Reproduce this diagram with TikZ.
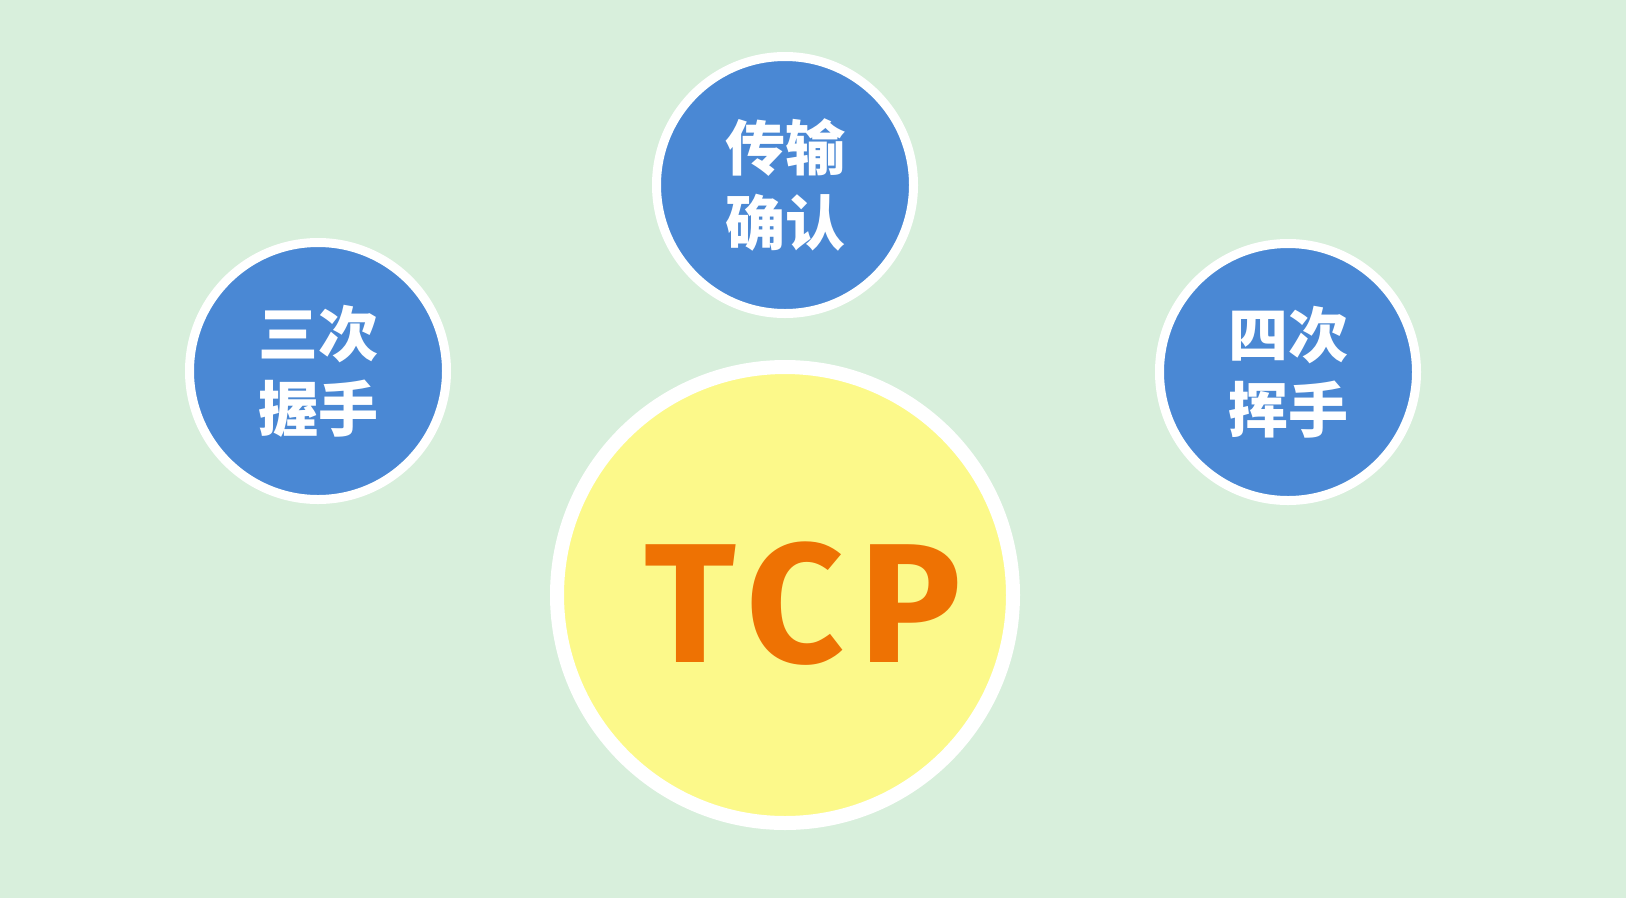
\documentclass[tikz,border=0pt]{standalone}
\usepackage{fontspec}
\newfontfamily\cjk{Noto Sans CJK SC Black}
\newfontfamily\tcpfont[LetterSpace=9]{Fira Sans Bold}
\definecolor{bg}{HTML}{D8EFDC}
\definecolor{bluefill}{HTML}{4A88D4}
\definecolor{yellowfill}{HTML}{FCF98A}
\definecolor{tcporange}{HTML}{EE7203}
\tikzset{
  topic/.style={circle, fill=bluefill, draw=white, line width=9pt, minimum size=257pt, inner sep=0pt,
    text=white, align=center, font=\cjk\fontsize{60}{75}\selectfont},
  core/.style={circle, fill=yellowfill, draw=white, line width=14pt, minimum size=456pt, inner sep=0pt},
  coretext/.style={text=tcporange, font=\tcpfont\fontsize{170}{170}\selectfont, inner sep=0pt}
}
\begin{document}
\begin{tikzpicture}[x=1pt,y=-1pt]
\fill[bg] (0,0) rectangle (1626,898);
\useasboundingbox (0,0) rectangle (1626,898);
\node[core] (tcp) at (785,595) {};
\node[coretext] (tcplabel) at (803,604) {TCP};
\node[topic] (left) at (318,371) {三次\\握手};
\node[topic] (top) at (785,185) {传输\\确认};
\node[topic] (right) at (1288,372) {四次\\挥手};
\end{tikzpicture}
\end{document}
